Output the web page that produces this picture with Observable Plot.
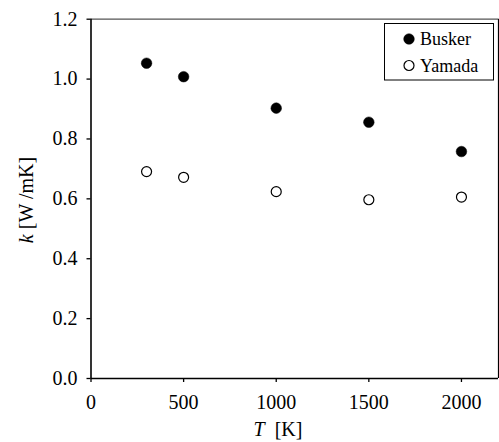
<!DOCTYPE html>
<html>
<head>
<meta charset="utf-8">
<script src="https://cdn.jsdelivr.net/npm/d3@7"></script>
<script src="https://cdn.jsdelivr.net/npm/@observablehq/plot@0.6"></script>
<style>
  @font-face { font-family: "ChartSerif"; src: local("Liberation Serif"), local("LiberationSerif"); font-style: normal; }
  @font-face { font-family: "ChartSerif"; src: local("Liberation Serif Italic"), local("LiberationSerif-Italic"); font-style: italic; }
  html, body { margin: 0; padding: 0; background: #fff; }
</style>
</head>
<body>
<div id="chart"></div>
<script>
const temperatures = [300, 500, 1000, 1500, 2000];
const busker = [1.053, 1.008, 0.903, 0.856, 0.758];
const yamada = [0.691, 0.672, 0.624, 0.597, 0.606];
const xTicks = [0, 500, 1000, 1500, 2000];
const yTicks = [0.0, 0.2, 0.4, 0.6, 0.8, 1.0, 1.2];
const seriesNames = ["Busker", "Yamada"];

const rows = [
  ...temperatures.map((t, i) => ({T: t, k: busker[i], series: seriesNames[0]})),
  ...temperatures.map((t, i) => ({T: t, k: yamada[i], series: seriesNames[1]}))
];

const W = 499, H = 442;
const ml = 90.5, mt = 18.7, mr = 1, mb = 64;
const font = "Liberation Serif, ChartSerif, Times New Roman, serif";

const chart = Plot.plot({
  width: W,
  height: H,
  marginLeft: ml,
  marginTop: mt,
  marginRight: mr,
  marginBottom: mb,
  style: {fontFamily: font, fontSize: "20px", color: "#000", background: "#fff"},
  x: {domain: [0, 2200], ticks: xTicks, label: null},
  y: {domain: [0, 1.2], ticks: yTicks, label: null},
  marks: [
    Plot.ruleY([1.2], {stroke: "#555", strokeWidth: 1.3}),
    Plot.ruleX([2200], {stroke: "#000", strokeWidth: 1.2}),
    Plot.axisX({ticks: xTicks, tickSize: 4, tickPadding: 12, tickFormat: d3.format("d"), fontSize: 20, fontFamily: font, label: null, stroke: "#000", strokeWidth: 1.3}),
    Plot.axisY({ticks: yTicks, tickSize: 4, tickPadding: 9.5, tickFormat: d3.format(".1f"), fontSize: 20, fontFamily: font, label: null, stroke: "#000", strokeWidth: 1.3}),
    Plot.ruleX([0], {stroke: "#000", strokeWidth: 1.6}),
    Plot.ruleY([0], {stroke: "#000", strokeWidth: 1.6}),
    Plot.dot(rows.filter(d => d.series === "Busker"), {x: "T", y: "k", r: 5.3, fill: "#000", stroke: "#000", strokeWidth: 0.5}),
    Plot.dot(rows.filter(d => d.series === "Yamada"), {x: "T", y: "k", r: 5, fill: "#fff", stroke: "#000", strokeWidth: 1.2})
  ]
});

const svg = d3.select(chart);

// Axis titles
const yl = svg.append("text")
  .attr("transform", "translate(33,200) rotate(-90)")
  .attr("text-anchor", "middle")
  .attr("font-size", 20)
  .attr("fill", "#000");
yl.append("tspan").attr("font-style", "italic").text("k");
yl.append("tspan").text(" [W /mK]");

const xl = svg.append("text")
  .attr("x", 278)
  .attr("y", 436)
  .attr("text-anchor", "middle")
  .attr("font-size", 20)
  .attr("fill", "#000")
  .style("white-space", "pre");
xl.append("tspan").attr("font-style", "italic").text("T");
xl.append("tspan").text("  [K]");

// Legend
const lg = svg.append("g");
lg.append("rect")
  .attr("x", 384.5).attr("y", 23.5)
  .attr("width", 109).attr("height", 56.5)
  .attr("fill", "#fff").attr("stroke", "#000").attr("stroke-width", 1);
const legendRows = [
  {name: seriesNames[0], fill: "#000", y: 39},
  {name: seriesNames[1], fill: "#fff", y: 65.5}
];
legendRows.forEach(r => {
  lg.append("circle").attr("cx", 409).attr("cy", r.y).attr("r", r.fill === "#000" ? 5.3 : 5)
    .attr("fill", r.fill).attr("stroke", "#000").attr("stroke-width", r.fill === "#000" ? 0.5 : 1.2);
  lg.append("text").attr("x", 420).attr("y", r.y + 6)
    .attr("text-anchor", "start")
    .attr("font-size", 18).attr("fill", "#000")
    .text(r.name);
});

svg.attr("font-family", font);
svg.selectAll("text").attr("font-family", font);

document.getElementById("chart").appendChild(chart);
</script>
</body>
</html>
